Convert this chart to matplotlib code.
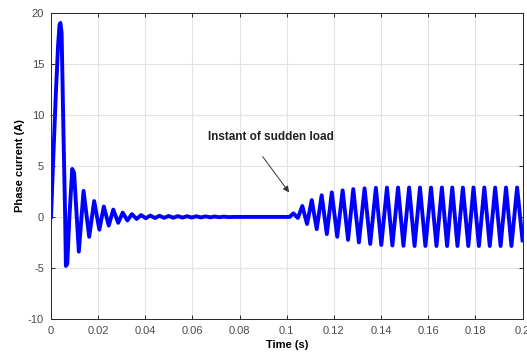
import numpy as np
import matplotlib
matplotlib.use('Agg')
import matplotlib.pyplot as plt
from matplotlib.ticker import FormatStrFormatter

# start-up transient, points
startup_t = [0.0, 0.0010, 0.0020, 0.0030, 0.0036, 0.0040, 0.0045, 0.0053,
             0.0060, 0.0063, 0.0069, 0.0078, 0.0090, 0.0098]
startup_i = [0.0, 6.0, 11.8, 16.8, 18.8, 19.0, 18.0, 8.0,
             0.0, -4.8, -4.6, 0.0, 4.7, 4.3]

# decaying oscillation before the load step
decay_peak_t = [0.0138, 0.0183, 0.0224, 0.0264, 0.0304, 0.0343, 0.0382, 0.0421,
                0.0460, 0.0499, 0.0538, 0.0577, 0.0616, 0.0655, 0.0694, 0.0733]
decay_peak_i = [2.55, 1.55, 1.02, 0.72, 0.42, 0.27, 0.18, 0.13,
                0.11, 0.09, 0.08, 0.07, 0.06, 0.05, 0.04, 0.03]
decay_trough_t = [0.0118, 0.0162, 0.0205, 0.0245, 0.0285, 0.0324, 0.0363, 0.0402,
                  0.0441, 0.0480, 0.0519, 0.0558, 0.0597, 0.0636, 0.0675, 0.0714, 0.0753]
decay_trough_i = [-3.4, -1.95, -1.25, -0.85, -0.58, -0.35, -0.2, -0.13,
                  -0.11, -0.09, -0.08, -0.07, -0.06, -0.05, -0.04, -0.03, -0.02]

# no-load steady state
flat_t = [0.0780, 0.1000, 0.1012]
flat_i = [0.0, 0.0, 0.0]

# after the sudden load
load_peak_t = [0.1028, 0.1066, 0.1106, 0.1148, 0.1191, 0.1237, 0.1282, 0.1330,
               0.1378, 0.1425, 0.1472, 0.1519, 0.1565, 0.1612, 0.1658, 0.1702,
               0.1747, 0.1792, 0.1838, 0.1884, 0.1930, 0.1977]
load_peak_i = [0.35, 1.07, 1.65, 2.12, 2.40, 2.60, 2.72, 2.80,
               2.85, 2.87, 2.88, 2.88, 2.88, 2.87, 2.88, 2.88,
               2.87, 2.88, 2.88, 2.87, 2.88, 2.88]
load_trough_t = [0.1047, 0.1086, 0.1127, 0.1170, 0.1214, 0.1260, 0.1306, 0.1354,
                 0.1401, 0.1448, 0.1495, 0.1542, 0.1588, 0.1635, 0.1680, 0.1724,
                 0.1770, 0.1815, 0.1861, 0.1907, 0.1953, 0.2000]
load_trough_i = [-0.10, -0.70, -1.20, -1.68, -1.95, -2.25, -2.50, -2.65,
                 -2.75, -2.80, -2.83, -2.85, -2.85, -2.85, -2.85, -2.85,
                 -2.85, -2.85, -2.85, -2.85, -2.85, -2.30]

x_ticks = [0, 0.02, 0.04, 0.06, 0.08, 0.1, 0.12, 0.14, 0.16, 0.18, 0.2]
y_ticks = [-10, -5, 0, 5, 10, 15, 20]


def build_series():
    t = np.concatenate([startup_t, decay_peak_t, decay_trough_t, flat_t,
                        load_peak_t, load_trough_t])
    i = np.concatenate([startup_i, decay_peak_i, decay_trough_i, flat_i,
                        load_peak_i, load_trough_i])
    order = np.argsort(t, kind='stable')
    return t[order], i[order]


plt.rcParams['font.family'] = ['Liberation Sans', 'DejaVu Sans']
plt.rcParams['axes.unicode_minus'] = False

fig = plt.figure(figsize=(5.27, 3.53), dpi=100)
ax = fig.add_axes([0.0968, 0.0963, 0.8947, 0.8677])

t, cur = build_series()
ax.plot(t, cur, color='#0000ff', lw=2.8, solid_joinstyle='round')

ax.set_xlim(0, 0.2)
ax.set_ylim(-10, 20)
ax.set_xticks(x_ticks)
ax.set_yticks(y_ticks)
ax.xaxis.set_major_formatter(FormatStrFormatter('%g'))
ax.grid(True, color='#e3e3e3', lw=0.8)
ax.set_axisbelow(True)
ax.tick_params(direction='in', length=3, width=0.7, colors='#262626',
               labelcolor='#4a4a4a', labelsize=8, top=True, right=True, pad=5)
for s in ax.spines.values():
    s.set_color('#262626')
    s.set_linewidth(0.7)

ax.set_xlabel('Time (s)', fontsize=8, fontweight='bold', labelpad=3)
ax.set_ylabel('Phase current (A)', fontsize=8, fontweight='bold', labelpad=2)

ax.text(0.0933, 7.8, 'Instant of sudden load', fontsize=8.5, fontweight='bold',
        color='#222222', ha='center', va='center')
ax.annotate('', xy=(0.101, 2.4), xytext=(0.0898, 5.9),
            arrowprops=dict(arrowstyle='-|>', color='#333333', lw=0.7,
                            mutation_scale=9, shrinkA=0, shrinkB=0))

fig.savefig('out.png', dpi=100)
